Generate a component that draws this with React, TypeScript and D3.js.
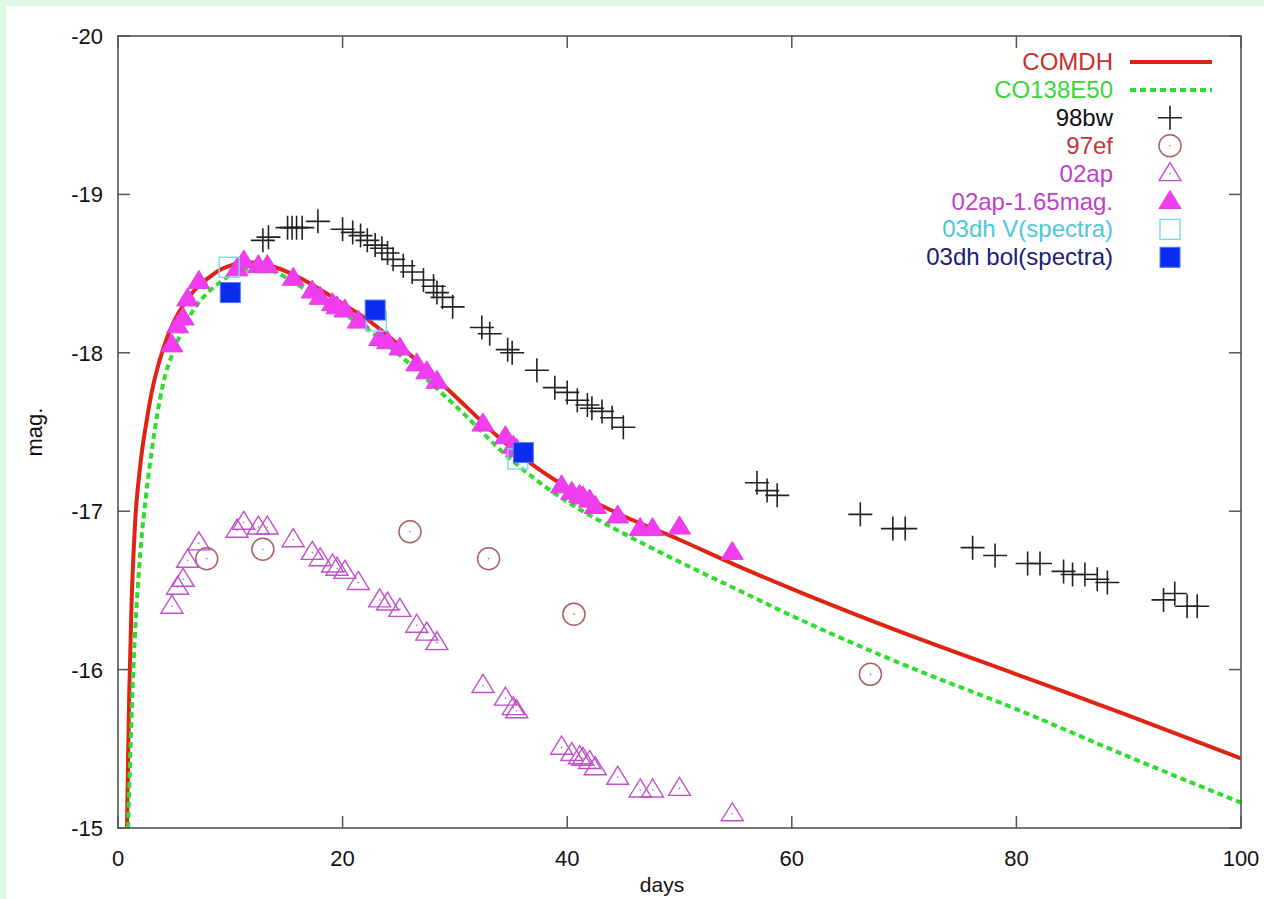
import React from 'react';
import * as d3 from 'd3';

const W = 1264;
const H = 899;
const plot = { left: 118, right: 1241, top: 36, bottom: 828 };
const font = '"Liberation Sans", Arial, sans-serif';

const xTicks = [0, 20, 40, 60, 80, 100];
const yTicks = [-20, -19, -18, -17, -16, -15];

// model light curves [day, mag]
const comdh: [number, number][] = [
  [0.8, -15.0], [0.9, -15.45], [1.0, -15.85], [1.2, -16.4], [1.5, -16.9], [2.0, -17.3], [2.5, -17.55],
  [3.0, -17.75], [4.0, -18.02], [5.0, -18.2], [6.0, -18.32], [7.0, -18.41], [8.0, -18.47], [9.0, -18.52],
  [10, -18.55], [11, -18.57], [12, -18.57], [13, -18.56], [14, -18.54], [16, -18.48], [18, -18.4],
  [20, -18.31], [22, -18.22], [25, -18.05], [28, -17.86], [31, -17.66], [34, -17.46], [37, -17.29],
  [40, -17.15], [45, -16.97], [50, -16.82], [55, -16.66], [60, -16.51], [70, -16.23], [80, -15.97],
  [90, -15.71], [100, -15.44],
];
const co138e50: [number, number][] = [
  [0.9, -15.0], [1.0, -15.25], [1.25, -15.8], [1.5, -16.2], [2.0, -16.75], [2.5, -17.1], [3.0, -17.38],
  [4.0, -17.8], [5.0, -18.02], [6.0, -18.18], [7.0, -18.3], [8.0, -18.38], [9.0, -18.44], [10, -18.49],
  [11, -18.52], [12, -18.53], [13, -18.53], [14, -18.51], [16, -18.43], [18, -18.34], [20, -18.25],
  [22, -18.16], [25, -17.99], [28, -17.8], [31, -17.6], [34, -17.39], [37, -17.21], [40, -17.06],
  [45, -16.86], [50, -16.68], [55, -16.51], [60, -16.34], [70, -16.03], [80, -15.75], [90, -15.45],
  [100, -15.16],
];

// observations [day, mag]
const sn98bw: [number, number][] = [
  [12.9, -18.71], [13.4, -18.73], [15.1, -18.79], [15.5, -18.79], [15.9, -18.79], [16.4, -18.79],
  [17.8, -18.83], [20.0, -18.78], [20.9, -18.76], [21.6, -18.74], [22.2, -18.71], [22.9, -18.68],
  [23.5, -18.66], [24.0, -18.63], [24.5, -18.59], [25.4, -18.55], [26.2, -18.51], [27.2, -18.46],
  [28.1, -18.42], [28.4, -18.38], [28.9, -18.35], [29.8, -18.29], [32.4, -18.16], [33.1, -18.12],
  [34.7, -18.02], [35.1, -18.0], [37.3, -17.89], [38.9, -17.78], [40.0, -17.75], [40.9, -17.7],
  [41.8, -17.67], [42.2, -17.65], [43.1, -17.63], [44.0, -17.59], [45.0, -17.53], [56.9, -17.18],
  [57.8, -17.13], [58.7, -17.1], [66.1, -16.98], [69.0, -16.89], [70.1, -16.89], [76.1, -16.77],
  [78.1, -16.72], [81.0, -16.67], [82.1, -16.67], [84.2, -16.62], [85.0, -16.6], [86.1, -16.6],
  [87.2, -16.57], [88.1, -16.55], [93.1, -16.44], [94.1, -16.48], [95.2, -16.4], [96.1, -16.4],
];
const sn97ef: [number, number][] = [
  [7.9, -16.7], [12.9, -16.76], [26.0, -16.87], [33.0, -16.7], [40.6, -16.35], [67.0, -15.97],
];
const sn02ap: [number, number][] = [
  [4.8, -16.4], [5.3, -16.52], [5.8, -16.57], [6.2, -16.69], [7.2, -16.8], [10.6, -16.88],
  [11.2, -16.93], [12.5, -16.9], [13.3, -16.9], [15.6, -16.82], [17.3, -16.74], [18.0, -16.7],
  [19.1, -16.66], [19.5, -16.64], [20.2, -16.62], [21.4, -16.55], [23.3, -16.44], [24.0, -16.42],
  [25.1, -16.38], [26.6, -16.28], [27.5, -16.23], [28.4, -16.17], [32.5, -15.9], [34.5, -15.82],
  [35.2, -15.76], [35.5, -15.74], [39.5, -15.51], [40.4, -15.47], [41.1, -15.45], [41.4, -15.44],
  [42.0, -15.42], [42.5, -15.38], [44.5, -15.32], [46.5, -15.24], [47.6, -15.24], [50.0, -15.25],
  [54.7, -15.09],
];
const sn02apShift: [number, number][] = [
  [4.8, -18.05], [5.3, -18.17], [5.8, -18.22], [6.2, -18.34], [7.2, -18.45], [10.6, -18.53],
  [11.2, -18.58], [12.5, -18.55], [13.3, -18.55], [15.6, -18.47], [17.3, -18.39], [18.0, -18.35],
  [19.1, -18.31], [19.5, -18.29], [20.2, -18.27], [21.4, -18.2], [23.3, -18.09], [24.0, -18.07],
  [25.1, -18.03], [26.6, -17.93], [27.5, -17.88], [28.4, -17.82], [32.5, -17.55], [34.5, -17.47],
  [35.2, -17.41], [35.5, -17.39], [39.5, -17.16], [40.4, -17.12], [41.1, -17.1], [41.4, -17.09],
  [42.0, -17.07], [42.5, -17.03], [44.5, -16.97], [46.5, -16.89], [47.6, -16.89], [50.0, -16.9],
  [54.7, -16.74],
];
const sn03dhV: [number, number][] = [[9.9, -18.54], [23.0, -18.2], [35.6, -17.33]];
const sn03dhBol: [number, number][] = [[10.0, -18.38], [22.9, -18.27], [36.1, -17.37]];

const legendLabels = ['COMDH', 'CO138E50', '98bw', '97ef', '02ap', '02ap-1.65mag.', '03dh V(spectra)', '03dh bol(spectra)'];
const legendColors = ['#c8302a', '#3ad43a', '#111111', '#c03838', '#c040c8', '#c040c8', '#4cc8d8', '#1a2078'];

const x = d3.scaleLinear().domain([0, 100]).range([plot.left, plot.right]);
const y = d3.scaleLinear().domain([-20, -15]).range([plot.top, plot.bottom]);

const line = d3.line<[number, number]>()
  .x(d => x(d[0]))
  .y(d => y(d[1]))
  .curve(d3.curveMonotoneX);

const TRI = 'M0,-11 L11,7 L-11,7 Z';

const Plus = ({ cx, cy }: { cx: number; cy: number }) => (
  <path d={`M${cx - 12},${cy} H${cx + 12} M${cx},${cy - 12} V${cy + 12}`} stroke="#222" strokeWidth={1.6} fill="none" />
);
const Circ = ({ cx, cy }: { cx: number; cy: number }) => (
  <g>
    <circle cx={cx} cy={cy} r={11} fill="none" stroke="#a86060" strokeWidth={1.5} />
    <circle cx={cx} cy={cy} r={0.8} fill="#a86060" />
  </g>
);
const OpenTri = ({ cx, cy }: { cx: number; cy: number }) => (
  <g transform={`translate(${cx},${cy})`}>
    <path d={TRI} fill="none" stroke="#c050c8" strokeWidth={1.4} />
    <circle r={0.8} fill="#c050c8" />
  </g>
);
const FillTri = ({ cx, cy }: { cx: number; cy: number }) => (
  <path transform={`translate(${cx},${cy})`} d={TRI} fill="#f23cf0" stroke="#e040e0" strokeWidth={1} />
);
const OpenSq = ({ cx, cy }: { cx: number; cy: number }) => (
  <rect x={cx - 10} y={cy - 10} width={20} height={20} fill="none" stroke="#7fd8e6" strokeWidth={1.4} />
);
const FillSq = ({ cx, cy }: { cx: number; cy: number }) => (
  <rect x={cx - 10} y={cy - 10} width={20} height={20} fill="#0a2cf0" stroke="#4a7af0" strokeWidth={1} />
);

export default function App() {
  const legendMarkers = [
    null, null, Plus, Circ, OpenTri, FillTri, OpenSq, FillSq,
  ];
  const lx0 = 1113, lm = 1170, ly0 = 62, ldy = 27.9;
  return (
    <svg width={W} height={H} style={{ position: 'absolute', left: 0, top: 0 }} fontFamily={font}>
      <rect width={W} height={H} fill="#ddf9e4" />
      <rect x={6} y={6} width={W - 6} height={H - 6} fill="#ffffff" />
      <defs>
        <clipPath id="plotclip">
          <rect x={plot.left} y={plot.top} width={plot.right - plot.left} height={plot.bottom - plot.top} />
        </clipPath>
      </defs>

      {/* ticks and labels */}
      <g stroke="#555" strokeWidth={1.5}>
        {xTicks.map(t => (
          <g key={'x' + t}>
            <line x1={x(t)} x2={x(t)} y1={plot.bottom} y2={plot.bottom - 12} />
            <line x1={x(t)} x2={x(t)} y1={plot.top} y2={plot.top + 12} />
          </g>
        ))}
        {yTicks.map(t => (
          <g key={'y' + t}>
            <line x1={plot.left} x2={plot.left + 12} y1={y(t)} y2={y(t)} />
            <line x1={plot.right} x2={plot.right - 12} y1={y(t)} y2={y(t)} />
          </g>
        ))}
      </g>
      {xTicks.map(t => (
        <text key={'xl' + t} x={x(t)} y={866} textAnchor="middle" fontSize={22} fill="#111">{t}</text>
      ))}
      {yTicks.map(t => (
        <text key={'yl' + t} x={103} y={y(t) + 8} textAnchor="end" fontSize={22} fill="#111">{t}</text>
      ))}
      <text x={662} y={892} textAnchor="middle" fontSize={21} fill="#111">days</text>
      <text transform={`translate(42,${(plot.top + plot.bottom) / 2}) rotate(-90)`} textAnchor="middle" fontSize={22} fill="#111">mag.</text>

      <g clipPath="url(#plotclip)">
        <path d={line(comdh) ?? ''} fill="none" stroke="#e02414" strokeWidth={4} />
        <path d={line(co138e50) ?? ''} fill="none" stroke="#2fdc2f" strokeWidth={4} strokeDasharray="6,4" />
        {sn98bw.map((d, i) => <Plus key={'b' + i} cx={x(d[0])} cy={y(d[1])} />)}
        {sn97ef.map((d, i) => <Circ key={'e' + i} cx={x(d[0])} cy={y(d[1])} />)}
        {sn02ap.map((d, i) => <OpenTri key={'a' + i} cx={x(d[0])} cy={y(d[1])} />)}
        {sn02apShift.map((d, i) => <FillTri key={'f' + i} cx={x(d[0])} cy={y(d[1])} />)}
        {sn03dhV.map((d, i) => <OpenSq key={'v' + i} cx={x(d[0])} cy={y(d[1])} />)}
        {sn03dhBol.map((d, i) => <FillSq key={'s' + i} cx={x(d[0])} cy={y(d[1])} />)}
      </g>

      {/* frame */}
      <rect x={plot.left} y={plot.top} width={plot.right - plot.left} height={plot.bottom - plot.top}
        fill="none" stroke="#555" strokeWidth={1.6} />

      {/* legend */}
      {legendLabels.map((lab, i) => {
        const cy = ly0 + i * ldy;
        const M = legendMarkers[i];
        return (
          <g key={'lg' + i}>
            <text x={lx0} y={cy + 8} textAnchor="end" fontSize={24} fill={legendColors[i]}>{lab}</text>
            {i === 0 && <line x1={1130} x2={1212} y1={cy} y2={cy} stroke="#e02414" strokeWidth={4} />}
            {i === 1 && <line x1={1130} x2={1212} y1={cy} y2={cy} stroke="#2fdc2f" strokeWidth={4} strokeDasharray="6,4" />}
            {M && <M cx={lm} cy={cy} />}
          </g>
        );
      })}
    </svg>
  );
}
